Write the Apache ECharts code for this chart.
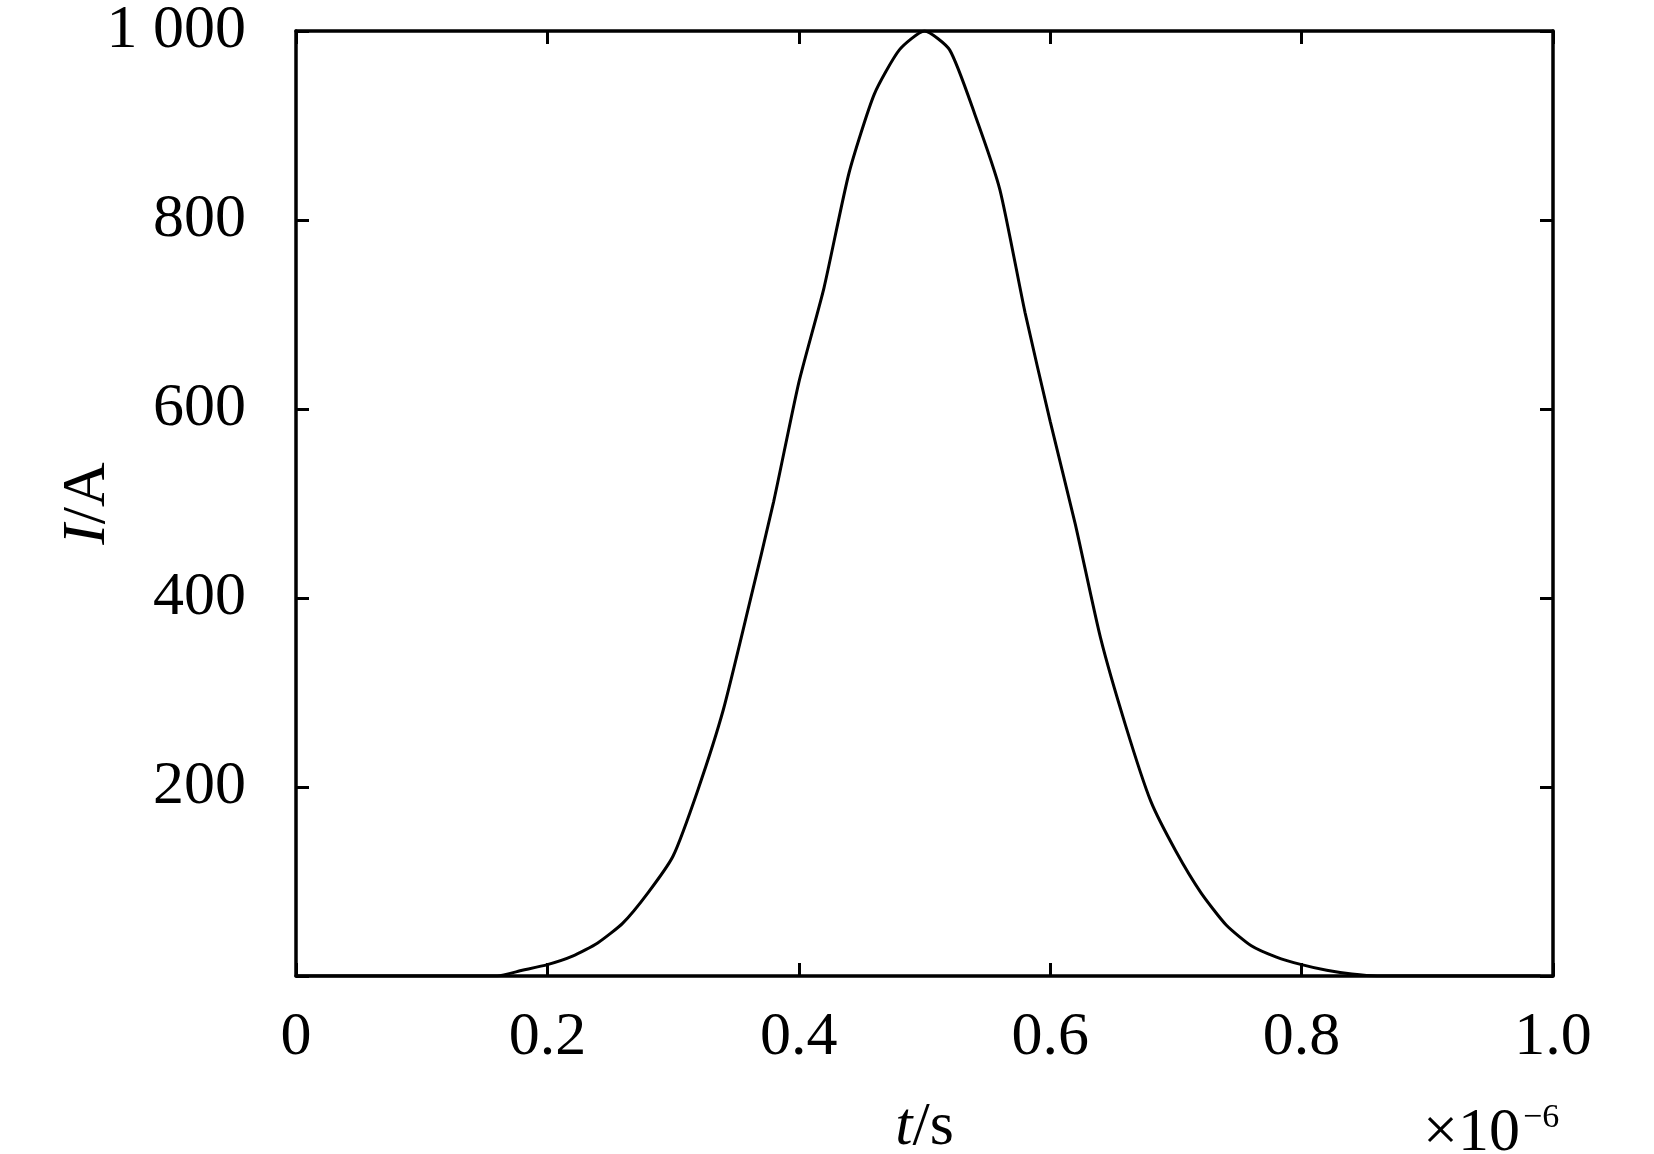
<!DOCTYPE html>
<html>
<head>
<meta charset="utf-8">
<script src="https://cdn.jsdelivr.net/npm/echarts@6/dist/echarts.min.js"></script>
<style>
html,body{margin:0;padding:0;background:#fff;}
#c{width:1654px;height:1154px;}
</style>
</head>
<body>
<div id="c"></div>
<script>
// time values (×10^-6 s) and current values (A)
const tValues = [0, 0.02, 0.04, 0.06, 0.08, 0.10, 0.12, 0.14, 0.16, 0.18, 0.20, 0.22, 0.24, 0.26, 0.28, 0.30,
  0.32, 0.34, 0.36, 0.38, 0.40, 0.42, 0.44, 0.46, 0.48, 0.50, 0.52, 0.54, 0.56, 0.58, 0.60, 0.62, 0.64, 0.66,
  0.68, 0.70, 0.72, 0.74, 0.76, 0.78, 0.80, 0.82, 0.84, 0.86, 0.88, 0.90, 0.92, 0.94, 0.96, 0.99];
const iValues = [0, 0, 0, 0, 0, 0, 0, 0, 0, 6, 12, 21, 35, 56, 88, 127,
  198, 282, 390, 502, 628, 728, 850, 933, 980, 1000, 980, 912, 832, 702, 587, 478, 358, 265,
  185, 132, 88, 54, 32, 20, 12, 6, 2, 0, 0, 0, 0, 0, 0, 0];
const xTicks = [0, 0.2, 0.4, 0.6, 0.8, 1.0];
const yTicks = [0, 200, 400, 600, 800, 1000];

const FONT = 'Liberation Serif';
const lineStyleAxis = { color: '#000', width: 3.5 };
const tickStyle = { show: true, inside: true, length: 13, lineStyle: { color: '#000', width: 3 } };

const chart = echarts.init(document.getElementById('c'));
chart.setOption({
  animation: false,
  backgroundColor: '#fff',
  grid: { left: 296, right: 101, top: 31, bottom: 178, containLabel: false, outerBoundsMode: 'none' },
  xAxis: [{
    type: 'value', min: xTicks[0], max: xTicks[xTicks.length - 1], interval: 0.2,
    axisLine: { show: true, onZero: false, lineStyle: lineStyleAxis },
    axisTick: tickStyle, splitLine: { show: false },
    axisLabel: { margin: 31, color: '#000', fontFamily: FONT, fontSize: 62,
      formatter: v => (Math.abs(v) < 1e-9 ? '0' : v.toFixed(1)) },
    name: '{i|t}{n|/s}', nameLocation: 'middle', nameGap: 121, nameMoveOverlap: false,
    nameTextStyle: { rich: {
      i: { fontFamily: FONT, fontSize: 62, fontStyle: 'italic', color: '#000' },
      n: { fontFamily: FONT, fontSize: 62, color: '#000' } } }
  }, {
    type: 'value', position: 'top', min: 0, max: 1, interval: 0.2,
    axisLine: { show: true, onZero: false, lineStyle: lineStyleAxis },
    axisTick: tickStyle, axisLabel: { show: false }, splitLine: { show: false }
  }],
  yAxis: [{
    type: 'value', min: yTicks[0], max: yTicks[yTicks.length - 1], interval: 200,
    axisLine: { show: true, onZero: false, lineStyle: lineStyleAxis },
    axisTick: tickStyle, splitLine: { show: false },
    axisLabel: { margin: 50, color: '#000', fontFamily: FONT, fontSize: 62,
      formatter: v => (v === 0 ? '' : (v === 1000 ? '1 000' : String(v))) },
    name: '{i|I}{n|/A}', nameLocation: 'middle', nameGap: 177, nameRotate: 90, nameMoveOverlap: false,
    nameTextStyle: { rich: {
      i: { fontFamily: FONT, fontSize: 62, fontStyle: 'italic', color: '#000' },
      n: { fontFamily: FONT, fontSize: 62, color: '#000' } } }
  }, {
    type: 'value', position: 'right', min: 0, max: 1000, interval: 200,
    axisLine: { show: true, onZero: false, lineStyle: lineStyleAxis },
    axisTick: tickStyle, axisLabel: { show: false }, splitLine: { show: false }
  }],
  graphic: [
    { type: 'text', left: 1423, top: 1103, style: { text: '×10', font: '62px "Liberation Serif"', fill: '#000' } },
    { type: 'text', left: 1523, top: 1101, style: { text: '−6', font: '34px "Liberation Serif"', fill: '#000' } }
  ],
  series: [{
    type: 'line', xAxisIndex: 0, yAxisIndex: 0,
    data: tValues.map((t, k) => [t, iValues[k]]),
    showSymbol: false, smooth: 0.2,
    lineStyle: { color: '#000', width: 3 }
  }]
});
</script>
</body>
</html>
